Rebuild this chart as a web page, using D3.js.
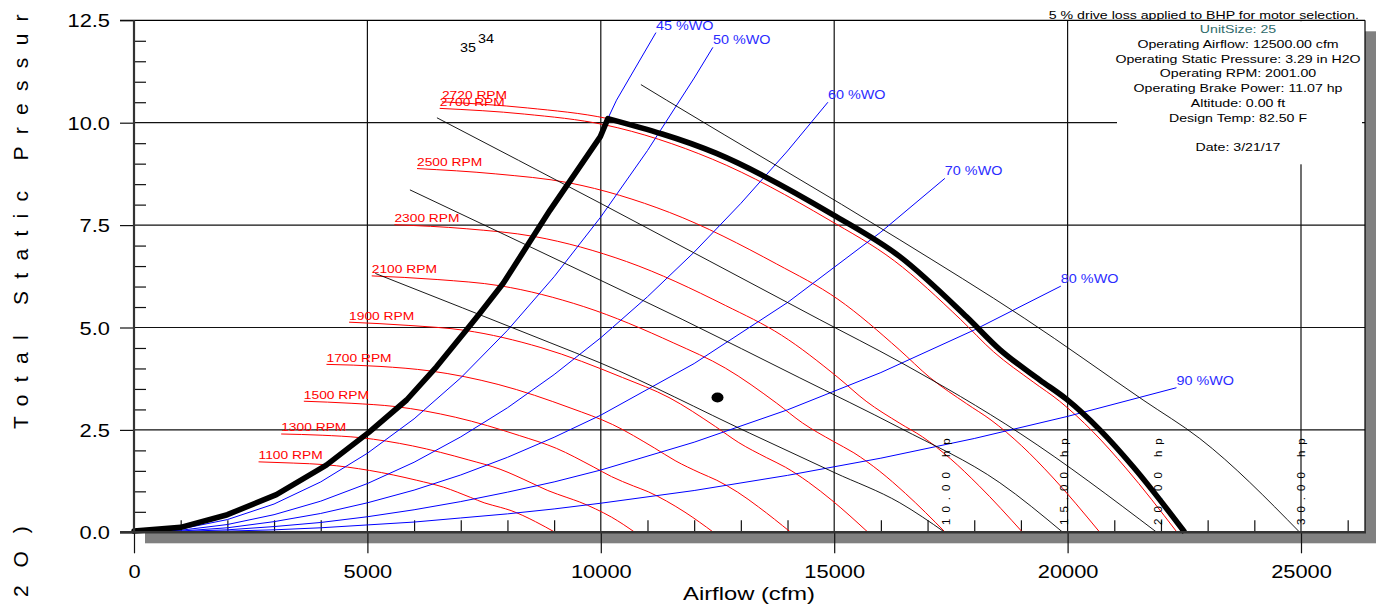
<!DOCTYPE html>
<html lang="en">
<head>
<meta charset="UTF-8">
<title>Fan Curve</title>
<script src="https://cdnjs.cloudflare.com/ajax/libs/d3/7.8.5/d3.min.js"></script>
<style>
body { margin: 0; background: #fff; }
svg text { font-family: "Liberation Sans", Arial, sans-serif; }
</style>
</head>
<body>
<svg id="chart" width="1379" height="609"></svg>
<script>
// axis ticks
var xTicks = [0, 5000, 10000, 15000, 20000, 25000]
var yTicks = [0, 2.5, 5, 7.5, 10, 12.5]

// fan curves (cfm, in H2O)
var rpmNames = ['1100 RPM', '1300 RPM', '1500 RPM', '1700 RPM', '1900 RPM', '2100 RPM', '2300 RPM', '2500 RPM', '2700 RPM', '2720 RPM']
var rpm1100 = [[2668,1.72],[3410,1.69],[4105,1.65],[5047,1.51],[6058,1.27],[6635,1.10],[7213,0.85],[7501,0.72],[7847,0.61],[8078,0.53],[8330,0.41],[8600,0.26],[9020,0]]
var rpm1300 = [[3153,2.40],[4030,2.37],[4852,2.31],[5964,2.11],[7159,1.77],[7842,1.54],[8524,1.20],[8865,1.02],[9274,0.85],[9547,0.74],[9889,0.57],[10230,0.37],[10730,0]]
var rpm1500 = [[3638,3.20],[4650,3.15],[5598,3.07],[6882,2.81],[8261,2.36],[9048,2.05],[9836,1.60],[10229,1.36],[10701,1.13],[11016,0.99],[11411,0.76],[11804,0.49],[12414,0]]
var rpm1700 = [[4123,4.10],[5270,4.05],[6344,3.94],[7800,3.61],[9362,3.03],[10254,2.63],[11147,2.06],[11592,1.75],[12128,1.45],[12485,1.27],[12932,0.98],[13377,0.62],[14069,0]]
var rpm1900 = [[4608,5.13],[5890,5.05],[7091,4.93],[8717,4.51],[10463,3.78],[11461,3.29],[12458,2.58],[12956,2.19],[13555,1.82],[13954,1.59],[14453,1.22],[14951,0.78],[15724,0]]
var rpm2100 = [[5093,6.26],[6510,6.17],[7837,6.02],[9635,5.51],[11565,4.62],[12667,4.01],[13770,3.15],[14320,2.67],[14981,2.22],[15422,1.94],[15975,1.49],[16525,0.95],[17380,0]]
var rpm2300 = [[5578,7.51],[7130,7.41],[8584,7.22],[10552,6.61],[12666,5.54],[13874,4.81],[15081,3.78],[15684,3.20],[16408,2.66],[16891,2.33],[17496,1.79],[18099,1.14],[19035,0]]
var rpm2500 = [[6063,8.88],[7750,8.75],[9330,8.53],[11470,7.81],[13768,6.55],[15080,5.69],[16393,4.46],[17048,3.78],[17835,3.14],[18360,2.74],[19018,2.11],[19673,1.35],[20690,0]]
var rpm2700 = [[6548,10.35],[8370,10.21],[10076,9.95],[12388,9.11],[14869,7.64],[16286,6.63],[17704,5.20],[18411,4.41],[19262,3.67],[19829,3.20],[20539,2.46],[21246,1.57],[22345,0]]
var rpm2720 = [[6596,10.51],[8432,10.36],[10151,10.10],[12479,9.25],[14979,7.75],[16407,6.73],[17835,5.26],[18548,4.46],[19404,3.72],[19976,3.25],[20691,2.50],[21404,1.60],[22510,0]]

// surge limit (left side of the heavy outline)
var surgeLine = [[0,0.03],[1000,0.12],[2000,0.43],[3050,0.92],[4120,1.64],[5030,2.44],[5840,3.23],[6480,4.04],[7130,4.95],[7410,5.35],[7910,6.08],[8410,6.97],[8910,7.86],[9990,9.66],[10151,10.10]]

// % wide open system lines
var woNames = ['45 %WO', '50 %WO', '60 %WO', '70 %WO', '80 %WO', '90 %WO']
var wo45 = [[8910,7.86],[9990,9.66],[10151,10.10],[10337,10.55],[11181,12.20]]
var wo50 = [[0,0],[1000,0.08],[2000,0.31],[3000,0.69],[4000,1.23],[5000,1.93],[6000,2.77],[7000,3.77],[8000,4.93],[9000,6.24],[10000,7.70],[11000,9.32],[12000,11.09],[12401,11.84]]
var wo60 = [[0,0],[1000,0.05],[2000,0.19],[3000,0.43],[4000,0.76],[5000,1.19],[6000,1.71],[7000,2.33],[8000,3.04],[9000,3.85],[10000,4.75],[11000,5.75],[12000,6.84],[13000,8.03],[14000,9.31],[14865,10.50]]
var wo70 = [[0,0],[1000,0.03],[2000,0.11],[3000,0.26],[4000,0.46],[5000,0.72],[6000,1.03],[7000,1.40],[8000,1.83],[9000,2.32],[10000,2.86],[12000,4.12],[14000,5.61],[16000,7.33],[17370,8.64]]
var wo80 = [[0,0],[1000,0.02],[2000,0.06],[3000,0.14],[4000,0.24],[5000,0.38],[6000,0.55],[7000,0.75],[8000,0.98],[9000,1.23],[10000,1.52],[12000,2.20],[14000,2.99],[16000,3.90],[18000,4.94],[19855,6.01]]
var wo90 = [[0,0],[1000,0.01],[2000,0.03],[3000,0.06],[4000,0.11],[5000,0.18],[6000,0.25],[7000,0.35],[8000,0.45],[9000,0.57],[10000,0.71],[12000,1.02],[14000,1.39],[16000,1.81],[18000,2.29],[20000,2.83],[22332,3.53]]

// brake horsepower lines
var hpNames = ['10.00 hp', '15.00 hp', '20.00 hp', '30.00 hp']
var hp10 = [[5170,6.32],[8910,4.63],[9980,4.14],[13190,2.42],[15000,1.46],[16406,0.72],[17370,0]]
var hp15 = [[5911,8.36],[9981,6.16],[11759,5.19],[14264,3.77],[16406,2.55],[18548,1.21],[19897,0]]
var hp20 = [[6490,10.12],[9981,8.04],[14693,5.19],[16406,4.16],[19000,2.40],[21911,0]]
var hp30 = [[10859,10.93],[11409,10.55],[16406,7.14],[19083,5.22],[21617,3.23],[22831,2.29],[24973,0]]

var opPoint = [12500, 3.29]

var infoLines = ['UnitSize: 25', 'Operating Airflow: 12500.00 cfm', 'Operating Static Pressure: 3.29 in H2O',
  'Operating RPM: 2001.00', 'Operating Brake Power: 11.07 hp', 'Altitude: 0.00 ft', 'Design Temp: 82.50 F']

var svg = d3.select('#chart')
var x = d3.scaleLinear().domain([0, 25000]).range([134, 1301])
var y = d3.scaleLinear().domain([0, 12.5]).range([532.3, 20.3])
var right = 1365
var S = 1.2   // the original's text is drawn a bit wide

var straight = d3.line().x(function(d) { return x(d[0]) }).y(function(d) { return y(d[1]) })
var smooth = d3.line().x(function(d) { return x(d[0]) }).y(function(d) { return y(d[1]) })
  .curve(d3.curveMonotoneX)

function wideText(g, px, py, str, size, sx) {
  return g.append('text')
    .attr('transform', 'translate(' + px + ',' + py + ') scale(' + sx + ',1)')
    .style('font-size', size + 'px')
    .text(str)
}

// drop shadow + plot background
svg.append('rect').attr('x', x(0) + 11).attr('y', y(12.5) + 11)
  .attr('width', right - x(0)).attr('height', y(0) - y(12.5)).attr('fill', '#808080')
svg.append('rect').attr('x', x(0)).attr('y', y(12.5))
  .attr('width', right - x(0)).attr('height', y(0) - y(12.5)).attr('fill', '#fff')

// grid
var grid = svg.append('g').attr('stroke', '#111').attr('stroke-width', 1.2)
grid.selectAll('.vg').data(xTicks.slice(1)).enter().append('line')
  .attr('x1', function(d) { return x(d) }).attr('x2', function(d) { return x(d) })
  .attr('y1', y(12.5)).attr('y2', y(0))
grid.selectAll('.hg').data(yTicks.slice(1, -1)).enter().append('line')
  .attr('x1', x(0)).attr('x2', right)
  .attr('y1', function(d) { return y(d) }).attr('y2', function(d) { return y(d) })

// minor ticks
var yMinor = d3.range(0.5, 12.5, 0.5).filter(function(d) { return d % 2.5 != 0 })
var xMinor = d3.range(1000, 26001, 1000).filter(function(d) { return d % 5000 != 0 })
var ym = svg.append('g').attr('transform', 'translate(' + x(0) + ',0)')
  .call(d3.axisRight(y).tickValues(yMinor).tickSize(12).tickFormat(''))
var xm = svg.append('g').attr('transform', 'translate(0,' + y(0) + ')')
  .call(d3.axisTop(x).tickValues(xMinor).tickSize(12).tickFormat(''))
ym.select('.domain').remove()
xm.select('.domain').remove()
svg.selectAll('.tick line').attr('stroke', '#111').attr('stroke-width', 1.2)

// fan curves
var rpmCurves = [rpm1100, rpm1300, rpm1500, rpm1700, rpm1900, rpm2100, rpm2300, rpm2500, rpm2700, rpm2720]
svg.append('g').selectAll('path').data(rpmCurves).enter().append('path')
  .attr('d', smooth).attr('fill', 'none').attr('stroke', '#ff0000').attr('stroke-width', 1)

// system lines
var woCurves = [wo45, wo50, wo60, wo70, wo80, wo90]
svg.append('g').selectAll('path').data(woCurves).enter().append('path')
  .attr('d', straight).attr('fill', 'none').attr('stroke', '#0000ff').attr('stroke-width', 1)

// hp lines
var hpCurves = [hp10, hp15, hp20, hp30]
svg.append('g').selectAll('path').data(hpCurves).enter().append('path')
  .attr('d', smooth).attr('fill', 'none').attr('stroke', '#000').attr('stroke-width', 0.9)

// heavy outline: surge line + max rpm curve
svg.append('path').attr('d', straight(surgeLine))
  .attr('fill', 'none').attr('stroke', '#000').attr('stroke-width', 5.6)
  .attr('stroke-linejoin', 'round').attr('stroke-linecap', 'round')
svg.append('path').attr('d', smooth(rpm2720.slice(2)))
  .attr('fill', 'none').attr('stroke', '#000').attr('stroke-width', 5.6)
  .attr('stroke-linejoin', 'round')

// operating point
svg.append('ellipse').attr('cx', x(opPoint[0])).attr('cy', y(opPoint[1]))
  .attr('rx', 6).attr('ry', 5).attr('fill', '#000')

// info box
svg.append('rect').attr('x', 1117).attr('y', y(12.5) + 1).attr('width', right - 1117 - 3).attr('height', 143).attr('fill', '#fff')

// frame
svg.append('line').attr('x1', x(0) - 14).attr('x2', right).attr('y1', y(12.5)).attr('y2', y(12.5)).attr('stroke', '#000').attr('stroke-width', 1.2)
svg.append('line').attr('x1', right).attr('x2', right).attr('y1', y(12.5)).attr('y2', y(0)).attr('stroke', '#000').attr('stroke-width', 1.2)

// axes
var xAxis = svg.append('g').attr('transform', 'translate(0,' + y(0) + ')')
  .call(d3.axisBottom(x).tickValues(xTicks).tickSize(21).tickFormat(d3.format('d')))
xAxis.select('.domain').remove()
xAxis.selectAll('line').attr('stroke', '#111').attr('stroke-width', 1.2)
xAxis.selectAll('text').attr('y', 0).attr('dy', 0).attr('fill', '#000')
  .attr('transform', 'translate(0,46) scale(1.15,1)').style('font-size', '19px')

var yAxis = svg.append('g').attr('transform', 'translate(' + x(0) + ',0)')
  .call(d3.axisLeft(y).tickValues(yTicks).tickSize(14).tickFormat(d3.format('.1f')))
yAxis.select('.domain').remove()
yAxis.selectAll('line').attr('stroke', '#111').attr('stroke-width', 1.2)
yAxis.selectAll('text').attr('x', 0).attr('dy', '0.35em').attr('fill', '#000')
  .attr('transform', 'translate(-24,0) scale(1.15,1)').style('font-size', '19px')

svg.append('line').attr('x1', x(0)).attr('x2', x(0)).attr('y1', y(12.5)).attr('y2', y(0))
  .attr('stroke', '#333').attr('stroke-width', 2.2)
svg.append('line').attr('x1', x(0) - 14).attr('x2', right + 1).attr('y1', y(0)).attr('y2', y(0))
  .attr('stroke', '#333').attr('stroke-width', 2.6)

// axis titles
wideText(svg, 749, 600, 'Airflow (cfm)', 19, 1.25).attr('text-anchor', 'middle')
svg.append('text').attr('transform', 'translate(28,429) rotate(-90)')
  .style('font-size', '21px').style('letter-spacing', '12.3px').text('Total Static Pressur')
svg.append('text').attr('transform', 'translate(28,597) rotate(-90)')
  .style('font-size', '21px').style('letter-spacing', '6px').text('2 O )')

// curve labels
var lab = svg.append('g')
rpmCurves.forEach(function(c, i) {
  wideText(lab, x(c[0][0]), y(c[0][1]) - 2.5, rpmNames[i], 11.5, S).attr('fill', '#ff0000')
})
woCurves.forEach(function(c, i) {
  var e = c[c.length - 1]
  wideText(lab, x(e[0]), y(e[1]) - 3, woNames[i], 12, S).attr('fill', '#2b2bff')
})
hpCurves.forEach(function(c, i) {
  var e = c[c.length - 1]
  lab.append('text').attr('transform', 'translate(' + (x(e[0]) + 5) + ',525) rotate(-90)')
    .style('font-size', '11.5px').style('letter-spacing', '6px').text(hpNames[i])
})
wideText(lab, 460, 52, '35', 12, S)
wideText(lab, 478, 43, '34', 12, S)

// info text
wideText(svg, 1359, 19, '5 % drive loss applied to BHP for motor selection.', 11.8, S).attr('text-anchor', 'end')
infoLines.forEach(function(t, i) {
  wideText(svg, 1238, 33 + i * 14.8, t, 11.8, S).attr('text-anchor', 'middle')
    .attr('fill', i == 0 ? '#2f6b6b' : '#000')
})
wideText(svg, 1238, 151, 'Date: 3/21/17', 11.8, S).attr('text-anchor', 'middle')
</script>
</body>
</html>
